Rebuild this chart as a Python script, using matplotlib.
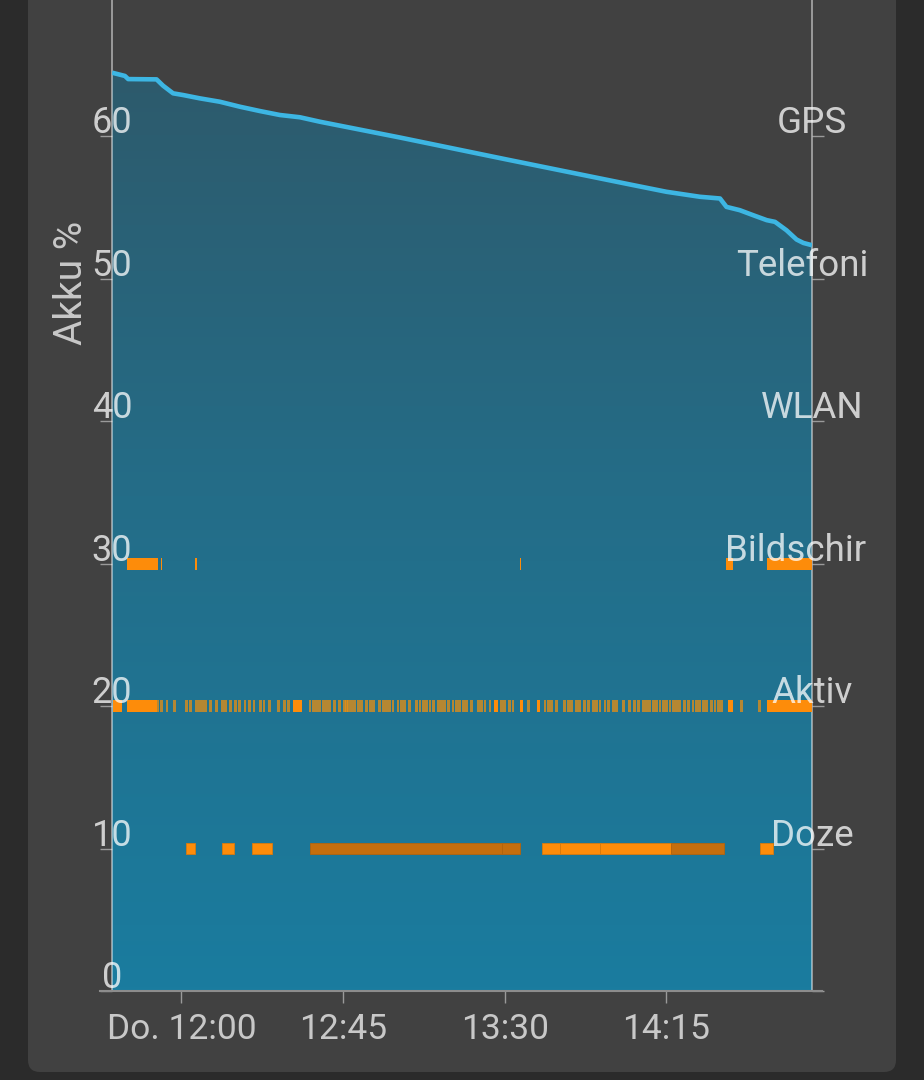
import matplotlib
matplotlib.use("Agg")
import matplotlib.pyplot as plt
import numpy as np
from matplotlib.colors import LinearSegmentedColormap
from matplotlib.patches import FancyBboxPatch
from matplotlib.lines import Line2D
from matplotlib.transforms import Bbox, IdentityTransform, blended_transform_factory

plt.rcParams['font.family'] = ['Roboto', 'DejaVu Sans']

# minutes relative to 12:00
batt_t = [-19.3, -15.7, -14.8, -6.9, -5.1, -2.3, 0.5, 5.1, 10.7, 16.3, 21.8, 27.4, 33.0, 38.5,
          60.8, 90.3, 116.5, 125.7, 135.0, 144.3, 149.9, 151.7, 155.4, 159.1, 162.9, 165.2,
          168.4, 171.2, 173.1, 175.5]
batt_pct = [64.45, 64.22, 64.0, 63.98, 63.54, 63.0, 62.88, 62.65, 62.41, 62.06, 61.76, 61.48,
            61.32, 61.01, 59.9, 58.37, 57.03, 56.56, 56.09, 55.74, 55.62, 55.03, 54.8, 54.45,
            54.1, 53.98, 53.39, 52.74, 52.5, 52.34]

row_names = ['Doze', 'Aktiv', 'Bildschirm', 'WLAN', 'Telefonie', 'GPS']
row_levels = [10, 20, 30, 40, 50, 60]

screen_on = [(-15.1, -6.5), (-5.8, -5.5), (3.7, 4.3), (94.3, 94.6), (151.7, 153.4), (162.9, 175.5)]

awake_blocks = [(-19.1, -16.4), (-15.2, -6.8), (31.0, 33.5), (87.0, 88.2), (94.2, 95.1),
                (98.9, 99.8), (152.0, 153.6), (162.9, 175.5)]
awake_pulses = [-6.5, -5.5, -4.0, -2.0, 1.4, 2.6, 4.2, 5.0, 5.9, 6.8, 8.1, 9.8, 11.4, 12.3, 13.7,
                15.0, 16.3, 17.7, 18.9, 20.2, 22.0, 23.0, 24.6, 27.1, 28.7, 29.8, 35.8, 36.7,
                37.6, 38.5, 39.5, 40.4, 41.3, 42.7, 44.1, 45.3, 46.0, 46.6, 47.4, 48.3, 49.2,
                50.2, 51.5, 52.7, 53.4, 55.2, 56.2, 57.1, 58.0, 58.9, 60.3, 61.3, 62.2, 63.6,
                65.5, 66.4, 67.3, 68.2, 69.2, 70.1, 71.5, 72.4, 73.3, 74.3, 75.6, 76.6, 77.5,
                78.4, 79.4, 80.8, 82.6, 83.6, 84.5, 85.9, 89.1, 90.0, 91.4, 92.3, 96.5, 101.2,
                102.1, 103.0, 104.4, 106.7, 107.7, 108.6, 110.0, 110.9, 112.3, 113.2, 114.6,
                115.6, 116.5, 117.9, 118.8, 120.2, 121.1, 123.0, 124.8, 126.2, 127.1, 128.5,
                129.5, 130.4, 131.3, 132.3, 133.2, 134.1, 135.0, 136.0, 136.9, 137.8, 138.7,
                140.1, 141.1, 142.4, 143.4, 144.3, 145.2, 146.2, 147.6, 148.5, 149.4, 150.3,
                155.9, 161.0]

doze_light = [(1.3, 3.9), (11.4, 14.7), (19.7, 25.3), (100.5, 105.5), (105.5, 116.4),
              (116.4, 136.4), (161.1, 164.7)]
doze_deep = [(35.9, 89.1), (89.3, 94.3), (136.4, 151.0)]

x_ticks = [0, 45, 90, 135]
x_labels = ['Do. 12:00', '12:45', '13:30', '14:15']
y_ticks = [0, 10, 20, 30, 40, 50, 60]

W, H = 924, 1080
fig = plt.figure(figsize=(W / 100, H / 100), dpi=100)
fig.patch.set_facecolor('#2b2b2b')

# card background
card = FancyBboxPatch((28, 8), 868, 1100, boxstyle='round,pad=0,rounding_size=12',
                      transform=IdentityTransform(), facecolor='#414141', edgecolor='none',
                      zorder=-10)
fig.patches.append(card)

ax = fig.add_axes([112 / W, 89 / H, 700 / W, 991 / H])
ax.set_zorder(2)
ax.set_facecolor('none')
xmin, xmax = -19.3, 175.5
ymax = 69.55
ax.set_xlim(xmin, xmax)
ax.set_ylim(0, ymax)

# gradient fill under the battery curve
cmap = LinearSegmentedColormap.from_list('akku', ['#1a7c9f', '#246d88', '#2f5767'])
grad = np.linspace(0, 1, 256).reshape(-1, 1)
im = ax.imshow(grad, extent=[xmin, xmax, 0, ymax], origin='lower', aspect='auto',
               cmap=cmap, zorder=1)
poly = ax.fill_between(batt_t, batt_pct, 0, facecolor='none', edgecolor='none')
im.set_clip_path(poly.get_paths()[0], transform=ax.transData)
ax.plot(batt_t, batt_pct, color='#3db6e3', lw=3.3, zorder=4, solid_capstyle='butt')

orange = '#fd8c0a'
dark_orange = '#c46e0e'
bh = 0.84

def spans(lst):
    return [(a, b - a) for a, b in lst]

ax.broken_barh(spans(screen_on), (30 - bh / 2, bh), facecolors=orange, zorder=3)
ax.broken_barh(spans(awake_blocks), (20 - bh / 2, bh), facecolors=orange, zorder=3)
ax.broken_barh([(t - 0.4, 0.8) for t in awake_pulses], (20 - bh / 2, bh),
               facecolors='#f0900e', alpha=0.72, zorder=3)
ax.broken_barh(spans(doze_light), (10 - bh / 2, bh), facecolors=orange,
               edgecolors='#d97a0c', linewidth=0.6, zorder=3)
ax.broken_barh(spans(doze_deep), (10 - bh / 2, bh), facecolors=dark_orange,
               edgecolors='#b3640c', linewidth=0.6, zorder=3)

# axes frame
for side in ['top', 'bottom']:
    ax.spines[side].set_visible(False)
for side in ['left', 'right']:
    ax.spines[side].set_color((1, 1, 1, 0.55))
    ax.spines[side].set_linewidth(1.2)
fig.add_artist(Line2D([100, 822], [89, 89], transform=IdentityTransform(),
                      color='#8c8c8c', lw=1.5, zorder=3))

ax.set_yticks(y_ticks)
ax.tick_params(axis='y', which='both', left=True, right=True, length=8.6, width=1,
               color='#9a9a9a', labelleft=False, labelright=False, direction='out')
ax.set_xticks(x_ticks)
ax.set_xticklabels(x_labels)
ax.tick_params(axis='x', length=8.6, width=1, color='#9a9a9a', pad=7,
               labelsize=25.5, labelcolor='#c8c8c8')

txt_color = (1, 1, 1, 0.75)
left_tr = blended_transform_factory(ax.transAxes, ax.transData)
for v in y_ticks:
    ax.annotate(str(v), xy=(0, v), xycoords=left_tr, xytext=(0, 2), textcoords='offset points',
                ha='center', va='baseline', fontsize=26, color=txt_color, zorder=6,
                annotation_clip=False)

clip = Bbox.from_extents(0, 0, 868, H)
for name, v in zip(row_names, row_levels):
    t = ax.annotate(name, xy=(1, v), xycoords=left_tr, xytext=(0, 2), textcoords='offset points',
                    ha='center', va='baseline', fontsize=26.5, color=txt_color, zorder=6,
                    annotation_clip=False)
    t.set_clip_box(clip)
    t.set_clip_on(True)

fig.text(71 / W, 1 - 283 / H, 'Akku %', rotation=90, ha='center', va='center',
         fontsize=28, color='#c8c8c8')

fig.savefig('out.png', dpi=100, facecolor=fig.get_facecolor())
